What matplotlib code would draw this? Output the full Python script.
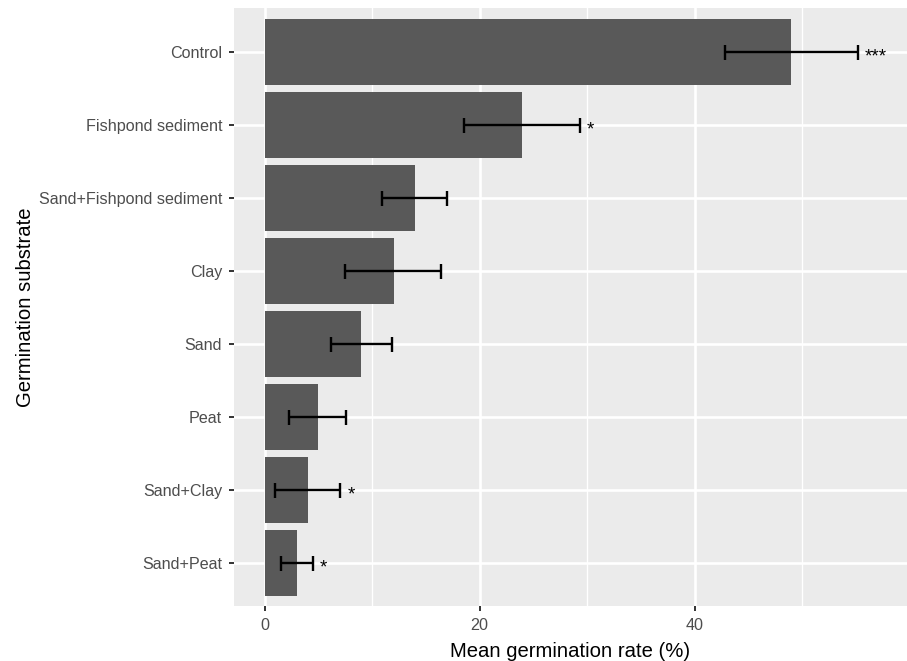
import matplotlib
matplotlib.use("Agg")
import matplotlib.pyplot as plt

substrates = ['Control', 'Fishpond sediment', 'Sand+Fishpond sediment', 'Clay',
              'Sand', 'Peat', 'Sand+Clay', 'Sand+Peat']
mean_rate = [49.0, 23.9, 13.95, 12.0, 9.0, 5.0, 4.0, 3.0]
err_low = [6.2, 5.4, 3.05, 4.5, 2.8, 2.7, 3.05, 1.5]
err_high = [6.2, 5.4, 3.05, 4.4, 2.8, 2.6, 3.05, 1.5]
signif = ['***', '*', '', '', '', '', '*', '*']

plt.rcParams['font.family'] = ['Liberation Sans', 'DejaVu Sans']

fig = plt.figure(figsize=(9.07, 6.61), dpi=100)
ax = fig.add_axes([0.258, 0.0825, 0.742, 0.9055])
ax.set_facecolor('#EBEBEB')

ypos = list(range(len(substrates)))
ax.barh(ypos, mean_rate, height=0.9, color='#595959', zorder=3)
ax.errorbar(mean_rate, ypos, xerr=[err_low, err_high], fmt='none',
            ecolor='black', elinewidth=1.7, capsize=5.4, capthick=1.7, zorder=4)
for y, m, e, s in zip(ypos, mean_rate, err_high, signif):
    if s:
        ax.text(m + e + 0.65, y + 0.07, s, ha='left', va='center',
                fontsize=13.5, color='black', zorder=5)

ax.set_xlim(-2.85, 59.75)
ax.set_ylim(7.6, -0.6)
ax.set_xticks([0, 20, 40])
ax.set_xticks([10, 30, 50], minor=True)
ax.set_yticks(ypos)
ax.set_yticklabels(substrates)
ax.grid(which='major', color='white', linewidth=1.9, zorder=0)
ax.grid(which='minor', axis='x', color='white', linewidth=0.95, zorder=0)
ax.set_axisbelow(True)
for sp in ax.spines.values():
    sp.set_visible(False)
ax.tick_params(which='major', length=3.6, width=1.4, color='#333333',
               labelcolor='#4D4D4D', labelsize=11.6, pad=5)
ax.tick_params(which='minor', length=0)

ax.set_xlabel('Mean germination rate (%)', fontsize=14.6, color='black', labelpad=6)
ax.set_ylabel('Germination substrate', fontsize=14.6, color='black', labelpad=3)

fig.savefig('out.png', dpi=100, facecolor='white')
